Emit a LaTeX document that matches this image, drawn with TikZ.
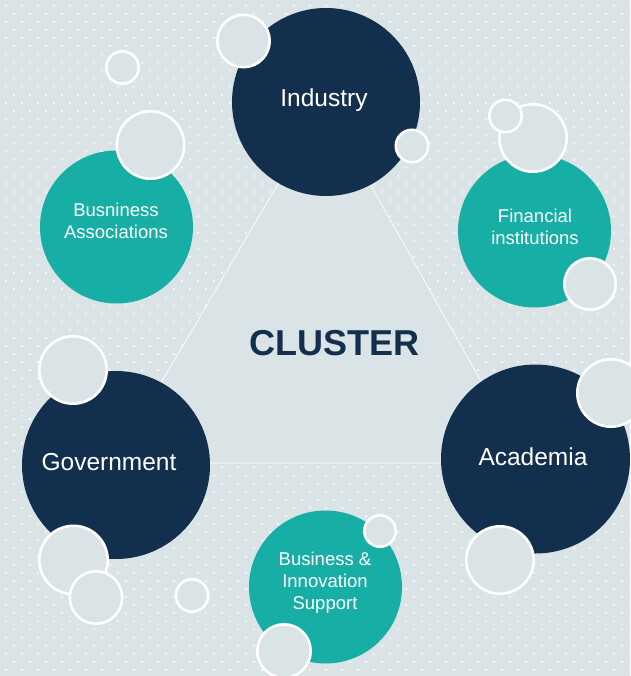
\documentclass[tikz,border=0pt]{standalone}
\usepackage{fontspec}
\setmainfont{Liberation Sans}
\definecolor{bgc}{HTML}{DAE3E5}
\definecolor{navy}{HTML}{12304D}
\definecolor{tealc}{HTML}{17AFA5}
\tikzset{
  navyball/.style={circle, fill=navy, inner sep=0pt, minimum size=#1},
  tealball/.style={circle, fill=tealc, inner sep=0pt, minimum size=#1},
  ring/.style={circle, draw=white, line width=2.6pt, fill=bgc, inner sep=0pt, minimum size=#1-2.6pt},
  bigtxt/.style={text=white, font=\fontsize{24.5}{29}\selectfont},
  midtxt/.style={text=white, align=center, font=\fontsize{18.5}{22}\selectfont},
}
\begin{document}
\begin{tikzpicture}[x=1pt,y=-1pt]
\useasboundingbox (0,0) rectangle (630,676);
\fill[bgc] (0,0) rectangle (630,676);
% dot grid
\fill[white, opacity=0.7]
  \foreach \j in {0,...,83} {
    \foreach \i in {0,...,39} {
      ({6+16*\i+8*mod(\j,2)-1}, {5.7+8.1*\j-1}) rectangle ++(2,2)
    }
  };
% central triangle
\coordinate (t1) at (325,104);
\coordinate (t2) at (114,463);
\coordinate (t3) at (527,463);
\filldraw[fill=bgc, draw=white, line width=0.7pt] (t1) -- (t2) -- (t3) -- cycle;
\node[text=navy, font=\bfseries\fontsize{36}{40}\selectfont] (cluster) at (334.5,343) {CLUSTER};
% main circles
\node[navyball=188pt] (ind) at (326,102) {};
\node[navyball=188pt] (gov) at (116,465) {};
\node[navyball=189pt] (aca) at (535.5,459) {};
\node[tealball=153pt] (bas) at (116.5,227) {};
\node[tealball=153pt] (fin) at (534.5,231) {};
\node[tealball=153pt] (bis) at (325.5,587) {};
% outline rings
\node[ring=35pt] (r1) at (122.5,67.5) {};
\node[ring=55pt] (r2) at (243.5,41) {};
\node[ring=35pt] (r3) at (412,146) {};
\node[ring=70pt] (r4) at (150.5,145) {};
\node[ring=70pt] (r5) at (533,138) {};
\node[ring=35pt] (r6) at (505.5,116) {};
\node[ring=54pt] (r7) at (590,284) {};
\node[ring=70pt] (r8) at (611,393) {};
\node[ring=70pt] (r9) at (500,560) {};
\node[ring=70pt] (r10) at (73,370) {};
\node[ring=71pt] (r11) at (73.5,560) {};
\node[ring=55pt] (r12) at (96,597.5) {};
\node[ring=35pt] (r13) at (192,595.5) {};
\node[ring=34pt] (r14) at (380,531) {};
\node[ring=56pt] (r15) at (284,651) {};
% labels
\node[bigtxt] (lind) at (324,100) {Industry};
\node[bigtxt] (lgov) at (109,462) {Government};
\node[bigtxt] (laca) at (533,457) {Academia};
\node[midtxt] (lbas) at (116,221) {Busniness\\Associations};
\node[midtxt] (lfin) at (535,227) {Financial\\institutions};
\node[midtxt] (lbis) at (325,583) {Business \&\\Innovation\\Support};
\end{tikzpicture}
\end{document}
